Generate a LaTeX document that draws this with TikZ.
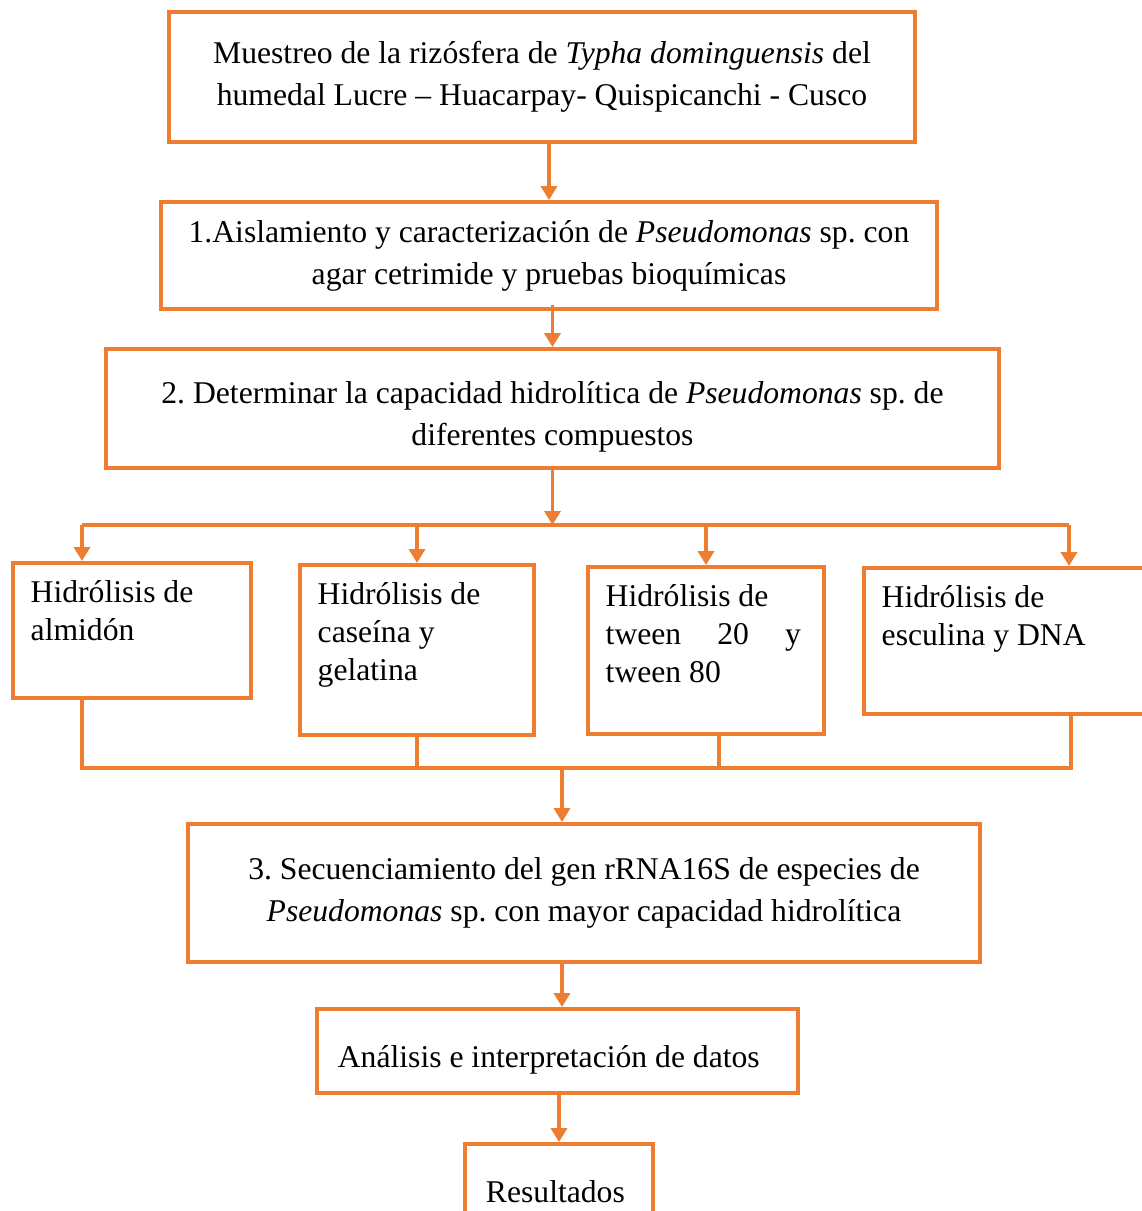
\documentclass[tikz,border=0pt]{standalone}
\usepackage{fontspec}
\setmainfont{Liberation Serif}
\usetikzlibrary{arrows.meta}
\definecolor{tangerine}{RGB}{237,125,49}
\frenchspacing

\begin{document}
\begin{tikzpicture}[x=0.01cm, y=-0.01cm,
    stepbox/.style={draw=tangerine, line width=1.1pt, align=center, inner sep=0pt, font=\fontsize{9}{12}\selectfont},
    subtext/.style={anchor=north west, align=left, inner xsep=0.19cm, inner ysep=0.19cm, font=\fontsize{9}{10.8}\selectfont},
    flow/.style={draw=tangerine, line width=1.1pt, -{Triangle[width=1.6mm,length=1.4mm]}},
    wire/.style={draw=tangerine, line width=1.1pt}]
    \useasboundingbox (0,0) rectangle (1142,1211);
    \clip (0,0) rectangle (1142,1211);

    % main steps
    \node[stepbox, minimum width=7.46cm, minimum height=1.30cm] (muestreo) at (542,77)
      {Muestreo de la rizósfera de \textit{Typha dominguensis} del\\humedal Lucre – Huacarpay- Quispicanchi - Cusco};
    \node[stepbox, minimum width=7.76cm, minimum height=1.07cm] (aislamiento) at (549,255.5)
      {1.Aislamiento y caracterización de \textit{Pseudomonas} sp. con\\agar cetrimide y pruebas bioquímicas};
    \node[stepbox, minimum width=8.93cm, minimum height=1.19cm] (capacidad) at (552.5,408.5)
      {\rule{0pt}{0.39cm}2. Determinar la capacidad hidrolítica de \textit{Pseudomonas} sp. de\\diferentes compuestos};

    % hydrolysis tests
    \foreach \id/\x/\y/\bw/\bh/\txt in {
      almidon/11/561/2.38/1.35/{Hidrólisis de\\almidón},
      caseina/298/563/2.34/1.70/{Hidrólisis de\\caseína y\\gelatina},
      tween/586/565/2.36/1.67/{Hidrólisis de\\\makebox[1.95cm][s]{tween 20 y}\\tween 80},
      esculina/862/566/2.96/1.46/{Hidrólisis de\\esculina y DNA}}
    {
      \node[stepbox, anchor=north west, minimum width=\bw cm, minimum height=\bh cm, label={[subtext]north west:\txt}] (\id) at (\x,\y) {};
    }

    \node[stepbox, minimum width=7.92cm, minimum height=1.38cm] (secuencia) at (584,893)
      {3. Secuenciamiento del gen rRNA16S de especies de\\\textit{Pseudomonas} sp. con mayor capacidad hidrolítica};
    \node[stepbox, text width=4.39cm, inner xsep=0.21cm, align=flush left, minimum height=0.84cm] (analisis) at (557.5,1051)
      {\rule{0pt}{0.39cm}Análisis e interpretación de datos};
    \node[stepbox, text width=1.46cm, inner xsep=0.21cm, align=flush left, minimum height=0.96cm] (resultados) at (559,1192)
      {Resultados};

    % connectors
    \draw[flow] (aislamiento.north |- muestreo.south) -- (aislamiento.north);
    \draw[flow] ([yshift=0.06cm]capacidad.north |- aislamiento.south) -- (capacidad.north);

    \coordinate (splitL) at (82,525);
    \coordinate (splitR) at (1069,525);
    \draw[flow] (capacidad.south) -- (capacidad.south |- splitL);
    \draw[wire] (splitL) -- (splitR);
    \draw[flow] (splitL) -- (splitL |- almidon.north);
    \draw[flow] (caseina.north |- splitL) -- (caseina.north);
    \draw[flow] (tween.north |- splitL) -- (tween.north);
    \draw[flow] (splitR) -- (splitR |- esculina.north);

    \coordinate (joinL) at (82,768);
    \coordinate (joinM) at (562,768);
    \coordinate (joinR) at (1071,768);
    \draw[wire] (joinL |- almidon.south) -- (joinL) -- (joinR) -- (joinR |- esculina.south);
    \draw[wire] (caseina.south) -- (caseina.south |- joinL);
    \draw[wire] ([xshift=0.13cm]tween.south) -- ([xshift=0.13cm]tween.south |- joinL);

    \draw[flow] (joinM) -- (joinM |- secuencia.north);
    \draw[flow] (joinM |- secuencia.south) -- (joinM |- analisis.north);
    \draw[flow] (resultados.north |- analisis.south) -- (resultados.north);
  \end{tikzpicture}
\end{document}
